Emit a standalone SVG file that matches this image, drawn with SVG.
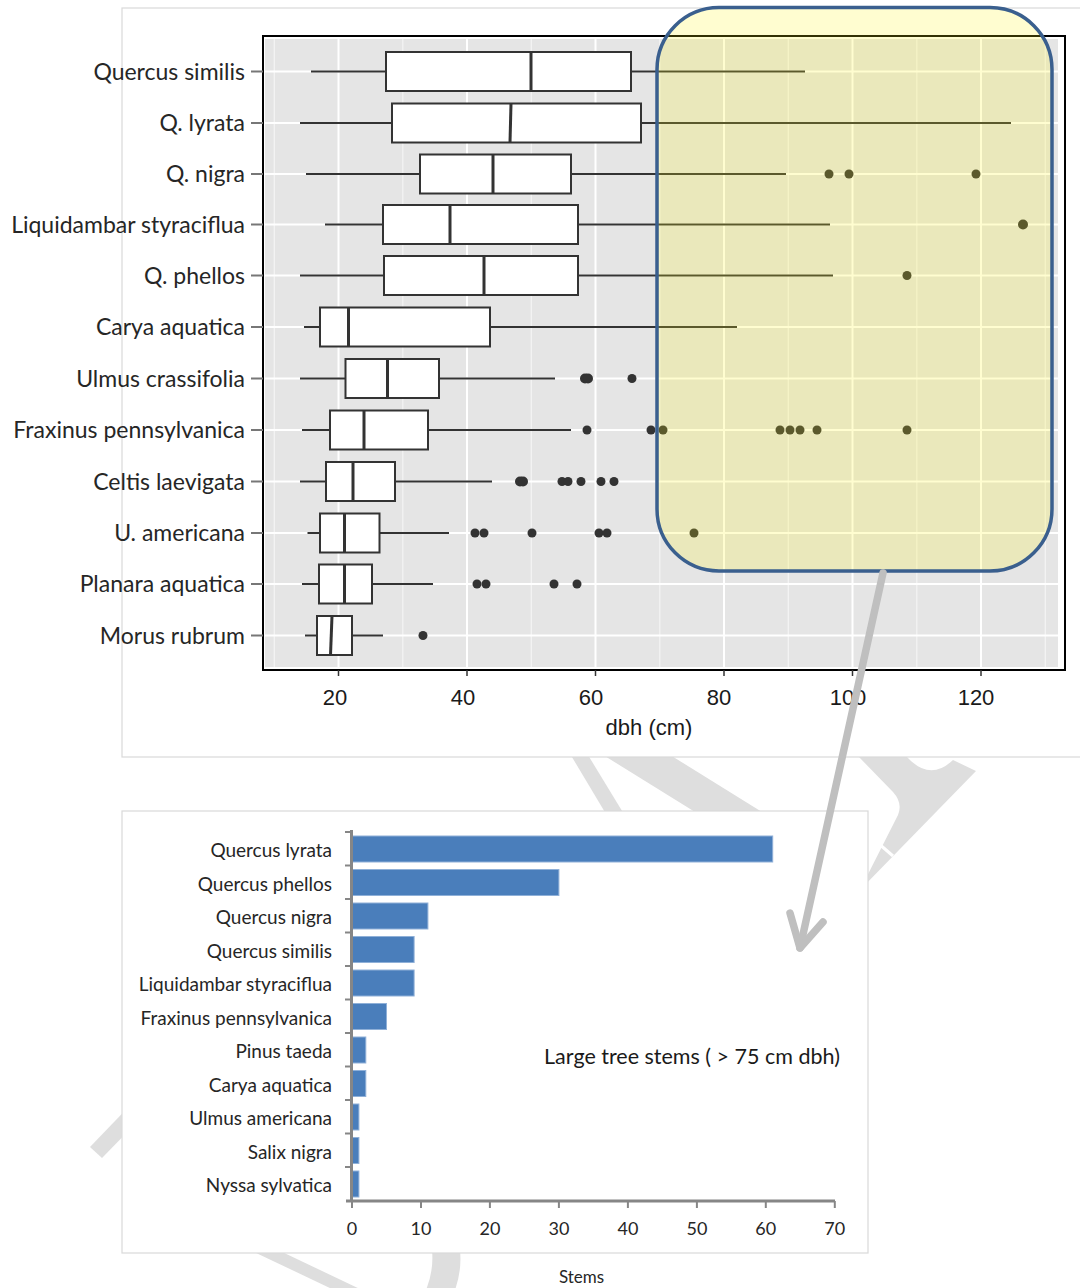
<svg xmlns="http://www.w3.org/2000/svg" width="1080" height="1288" viewBox="0 0 1080 1288">
<style>
.wm{fill:#dedede}
.panel{fill:#ffffff;stroke:#d9d9d9;stroke-width:1.2}
.gmaj{stroke:#ffffff;stroke-width:2}
.gmin{stroke:#f4f4f4;stroke-width:1.2}
.wh{stroke:#333333;stroke-width:2;fill:none}
.box{fill:#ffffff;stroke:#333333;stroke-width:2}
.med{stroke:#333333;stroke-width:3}
.pt{fill:#333333}
.ytk{stroke:#777777;stroke-width:2}
.xtk{stroke:#333333;stroke-width:1.5}
.lab{font-family:Lato,"Open Sans","Liberation Sans",sans-serif;font-size:23px;fill:#262626;text-anchor:end}
.num{font-family:"Liberation Sans",Arial,sans-serif;font-size:22px;fill:#1a1a1a;text-anchor:middle}
.bar{fill:#4a7ebb;stroke:#8fb0d8;stroke-width:1}
.bax{stroke:#868686;stroke-width:3;fill:none}
.btk{stroke:#868686;stroke-width:2}
.blab{font-family:Lato,"Open Sans","Liberation Sans",sans-serif;font-size:19px;fill:#262626;text-anchor:end}
.bnum{font-family:Lato,"Open Sans","Liberation Sans",sans-serif;font-size:18px;fill:#262626;text-anchor:middle}
.arrow{stroke:#bfbfbf;stroke-width:7.5;fill:none;stroke-linecap:round;stroke-linejoin:round}
</style>

<g id="watermark">
<polygon class="wm" points="560,737 577,737 630,824 612,824"/>
<polygon class="wm" points="579,740 646,740 783,825 716,825"/>
<path class="wm" d="M859 757 L893 792 Q903 803 898 815 L860 890 L976 771 L953 760 Q930 782 907 757 Z"/>
<line x1="878" y1="843" x2="893" y2="856" stroke="#ffffff" stroke-width="3"/>
<polygon class="wm" points="90,1147 102,1158 140,1119 140,1095"/>
<polygon class="wm" points="250,1250 278,1250 362,1290 334,1290"/>
<path class="wm" d="M432 1250 L460 1250 Q462 1270 455 1290 L426 1290 Q434 1270 432 1250 Z"/>
</g>

<g id="boxplot-chart">
<rect class="panel" x="122" y="8" width="970" height="749"/>
<rect x="263" y="36" width="802" height="634" fill="#ffffff" stroke="#000000" stroke-width="2"/>
<rect x="265" y="39" width="793" height="628" fill="#e5e5e5"/>
<g id="grid">
<line class="gmin" x1="274.3" y1="39" x2="274.3" y2="667"/>
<line class="gmin" x1="402.8" y1="39" x2="402.8" y2="667"/>
<line class="gmin" x1="531.3" y1="39" x2="531.3" y2="667"/>
<line class="gmin" x1="659.8" y1="39" x2="659.8" y2="667"/>
<line class="gmin" x1="788.3" y1="39" x2="788.3" y2="667"/>
<line class="gmin" x1="916.8" y1="39" x2="916.8" y2="667"/>
<line class="gmin" x1="1045.3" y1="39" x2="1045.3" y2="667"/>
<line class="gmaj" x1="338.5" y1="39" x2="338.5" y2="667"/>
<line class="gmaj" x1="467" y1="39" x2="467" y2="667"/>
<line class="gmaj" x1="595.5" y1="39" x2="595.5" y2="667"/>
<line class="gmaj" x1="724" y1="39" x2="724" y2="667"/>
<line class="gmaj" x1="852.5" y1="39" x2="852.5" y2="667"/>
<line class="gmaj" x1="981" y1="39" x2="981" y2="667"/>
<line class="gmaj" x1="265" y1="71.5" x2="1058" y2="71.5"/>
<line class="gmaj" x1="265" y1="123" x2="1058" y2="123"/>
<line class="gmaj" x1="265" y1="174" x2="1058" y2="174"/>
<line class="gmaj" x1="265" y1="224.5" x2="1058" y2="224.5"/>
<line class="gmaj" x1="265" y1="275.5" x2="1058" y2="275.5"/>
<line class="gmaj" x1="265" y1="327" x2="1058" y2="327"/>
<line class="gmaj" x1="265" y1="378.5" x2="1058" y2="378.5"/>
<line class="gmaj" x1="265" y1="430" x2="1058" y2="430"/>
<line class="gmaj" x1="265" y1="481.5" x2="1058" y2="481.5"/>
<line class="gmaj" x1="265" y1="533" x2="1058" y2="533"/>
<line class="gmaj" x1="265" y1="584" x2="1058" y2="584"/>
<line class="gmaj" x1="265" y1="635.5" x2="1058" y2="635.5"/>
</g>

<g id="box-quercus-similis">
<line class="wh" x1="311" y1="71.5" x2="805" y2="71.5"/>
<rect class="box" x="386" y="52" width="245" height="39"/>
<line class="med" x1="531" y1="52" x2="531" y2="91"/>
</g>
<g id="box-q-lyrata">
<line class="wh" x1="300" y1="123" x2="1011" y2="123"/>
<rect class="box" x="392" y="103.5" width="249" height="39"/>
<line class="med" x1="511" y1="103.5" x2="510" y2="142.5"/>
</g>
<g id="box-q-nigra">
<line class="wh" x1="306" y1="174" x2="786" y2="174"/>
<rect class="box" x="420" y="154.5" width="151" height="39"/>
<line class="med" x1="493" y1="154.5" x2="493" y2="193.5"/>
<circle class="pt" cx="829" cy="174" r="4.5"/>
<circle class="pt" cx="849" cy="174" r="4.5"/>
<circle class="pt" cx="976" cy="174" r="4.5"/>
</g>
<g id="box-liquidambar">
<line class="wh" x1="325" y1="224.5" x2="830" y2="224.5"/>
<rect class="box" x="383" y="205" width="195" height="39"/>
<line class="med" x1="450" y1="205" x2="450" y2="244"/>
<circle class="pt" cx="1023" cy="224.5" r="5"/>
</g>
<g id="box-q-phellos">
<line class="wh" x1="300" y1="275.5" x2="833" y2="275.5"/>
<rect class="box" x="384" y="256" width="194" height="39"/>
<line class="med" x1="484" y1="256" x2="484" y2="295"/>
<circle class="pt" cx="907" cy="275.5" r="4.5"/>
</g>
<g id="box-carya">
<line class="wh" x1="304" y1="327" x2="737" y2="327"/>
<rect class="box" x="320" y="307.5" width="170" height="39"/>
<line class="med" x1="348.5" y1="307.5" x2="348.5" y2="346.5"/>
</g>
<g id="box-ulmus-crassifolia">
<line class="wh" x1="300" y1="378.5" x2="555" y2="378.5"/>
<rect class="box" x="345.5" y="359" width="93.5" height="39"/>
<line class="med" x1="387.5" y1="359" x2="387.5" y2="398"/>
<circle class="pt" cx="585" cy="378.5" r="5"/>
<circle class="pt" cx="588" cy="378.5" r="5"/>
<circle class="pt" cx="632" cy="378.5" r="4.5"/>
</g>
<g id="box-fraxinus">
<line class="wh" x1="302" y1="430" x2="571" y2="430"/>
<rect class="box" x="330" y="410.5" width="98" height="39"/>
<line class="med" x1="364" y1="410.5" x2="364" y2="449.5"/>
<circle class="pt" cx="587" cy="430" r="4.5"/>
<circle class="pt" cx="651" cy="430" r="4.5"/>
<circle class="pt" cx="663" cy="430" r="4.5"/>
<circle class="pt" cx="780" cy="430" r="4.5"/>
<circle class="pt" cx="790" cy="430" r="4.5"/>
<circle class="pt" cx="800" cy="430" r="4.5"/>
<circle class="pt" cx="817" cy="430" r="4.5"/>
<circle class="pt" cx="907" cy="430" r="4.5"/>
</g>
<g id="box-celtis">
<line class="wh" x1="300" y1="481.5" x2="492" y2="481.5"/>
<rect class="box" x="326" y="462" width="69" height="39"/>
<line class="med" x1="353" y1="462" x2="353" y2="501"/>
<circle class="pt" cx="520" cy="481.5" r="5"/>
<circle class="pt" cx="523" cy="481.5" r="5"/>
<circle class="pt" cx="562" cy="481.5" r="4.5"/>
<circle class="pt" cx="568" cy="481.5" r="4.5"/>
<circle class="pt" cx="581" cy="481.5" r="4.5"/>
<circle class="pt" cx="601" cy="481.5" r="4.5"/>
<circle class="pt" cx="614" cy="481.5" r="4.5"/>
</g>
<g id="box-u-americana">
<line class="wh" x1="307.5" y1="533" x2="449" y2="533"/>
<rect class="box" x="320" y="513.5" width="59.5" height="39"/>
<line class="med" x1="344.5" y1="513.5" x2="344.5" y2="552.5"/>
<circle class="pt" cx="475" cy="533" r="4.5"/>
<circle class="pt" cx="484" cy="533" r="4.5"/>
<circle class="pt" cx="532" cy="533" r="4.5"/>
<circle class="pt" cx="599" cy="533" r="4.5"/>
<circle class="pt" cx="607" cy="533" r="4.5"/>
<circle class="pt" cx="694" cy="533" r="4.5"/>
</g>
<g id="box-planara">
<line class="wh" x1="302" y1="584" x2="433" y2="584"/>
<rect class="box" x="319" y="564.5" width="53" height="39"/>
<line class="med" x1="344.5" y1="564.5" x2="344.5" y2="603.5"/>
<circle class="pt" cx="477" cy="584" r="4.5"/>
<circle class="pt" cx="486" cy="584" r="4.5"/>
<circle class="pt" cx="554" cy="584" r="4.5"/>
<circle class="pt" cx="577" cy="584" r="4.5"/>
</g>
<g id="box-morus">
<line class="wh" x1="305" y1="635.5" x2="383" y2="635.5"/>
<rect class="box" x="317" y="616" width="35" height="39"/>
<line class="med" x1="332" y1="616" x2="330.5" y2="655"/>
<circle class="pt" cx="423" cy="635.5" r="4.5"/>
</g>

<g id="y-axis">
<line class="ytk" x1="251" y1="71.5" x2="263" y2="71.5"/>
<line class="ytk" x1="251" y1="123" x2="263" y2="123"/>
<line class="ytk" x1="251" y1="174" x2="263" y2="174"/>
<line class="ytk" x1="251" y1="224.5" x2="263" y2="224.5"/>
<line class="ytk" x1="251" y1="275.5" x2="263" y2="275.5"/>
<line class="ytk" x1="251" y1="327" x2="263" y2="327"/>
<line class="ytk" x1="251" y1="378.5" x2="263" y2="378.5"/>
<line class="ytk" x1="251" y1="430" x2="263" y2="430"/>
<line class="ytk" x1="251" y1="481.5" x2="263" y2="481.5"/>
<line class="ytk" x1="251" y1="533" x2="263" y2="533"/>
<line class="ytk" x1="251" y1="584" x2="263" y2="584"/>
<line class="ytk" x1="251" y1="635.5" x2="263" y2="635.5"/>
<text class="lab" x="245" y="79.5">Quercus similis</text>
<text class="lab" x="245" y="131">Q. lyrata</text>
<text class="lab" x="245" y="182">Q. nigra</text>
<text class="lab" x="245" y="232.5">Liquidambar styraciflua</text>
<text class="lab" x="245" y="283.5">Q. phellos</text>
<text class="lab" x="245" y="335">Carya aquatica</text>
<text class="lab" x="245" y="386.5">Ulmus crassifolia</text>
<text class="lab" x="245" y="438">Fraxinus pennsylvanica</text>
<text class="lab" x="245" y="489.5">Celtis laevigata</text>
<text class="lab" x="245" y="541">U. americana</text>
<text class="lab" x="245" y="592">Planara aquatica</text>
<text class="lab" x="245" y="643.5">Morus rubrum</text>
</g>
<g id="x-axis">
<line class="xtk" x1="338.5" y1="670" x2="338.5" y2="676"/>
<line class="xtk" x1="467" y1="670" x2="467" y2="676"/>
<line class="xtk" x1="595.5" y1="670" x2="595.5" y2="676"/>
<line class="xtk" x1="724" y1="670" x2="724" y2="676"/>
<line class="xtk" x1="852.5" y1="670" x2="852.5" y2="676"/>
<line class="xtk" x1="981" y1="670" x2="981" y2="676"/>
<text class="num" x="335" y="705">20</text>
<text class="num" x="463" y="705">40</text>
<text class="num" x="591" y="705">60</text>
<text class="num" x="719" y="705">80</text>
<text class="num" x="848" y="705">100</text>
<text class="num" x="976" y="705">120</text>
<text class="num" x="649" y="735">dbh (cm)</text>
</g>
</g>

<g id="highlight-region">
<rect x="657" y="7.5" width="395" height="563.5" rx="62" ry="62" fill="#fff514" fill-opacity="0.2" stroke="#3a5f8e" stroke-width="3.5"/>
</g>

<g id="bar-chart">
<rect class="panel" x="122" y="811" width="746" height="442"/>
<g id="bars">
<rect class="bar" x="352" y="836" width="420.7" height="26"/>
<rect class="bar" x="352" y="869.5" width="206.9" height="26"/>
<rect class="bar" x="352" y="903" width="75.9" height="26"/>
<rect class="bar" x="352" y="936.5" width="62.1" height="26"/>
<rect class="bar" x="352" y="970" width="62.1" height="26"/>
<rect class="bar" x="352" y="1003.5" width="34.5" height="26"/>
<rect class="bar" x="352" y="1037" width="13.8" height="26"/>
<rect class="bar" x="352" y="1070.5" width="13.8" height="26"/>
<rect class="bar" x="352" y="1104" width="6.9" height="26"/>
<rect class="bar" x="352" y="1137.5" width="6.9" height="26"/>
<rect class="bar" x="352" y="1171" width="6.9" height="26"/>
</g>
<g id="bar-axes">
<line class="bax" x1="351.5" y1="830" x2="351.5" y2="1201"/>
<line class="bax" x1="346" y1="1201" x2="835" y2="1201"/>
<line class="btk" x1="345" y1="832" x2="352" y2="832"/>
<line class="btk" x1="345" y1="865.5" x2="352" y2="865.5"/>
<line class="btk" x1="345" y1="899" x2="352" y2="899"/>
<line class="btk" x1="345" y1="932.5" x2="352" y2="932.5"/>
<line class="btk" x1="345" y1="966" x2="352" y2="966"/>
<line class="btk" x1="345" y1="999.5" x2="352" y2="999.5"/>
<line class="btk" x1="345" y1="1033" x2="352" y2="1033"/>
<line class="btk" x1="345" y1="1066.5" x2="352" y2="1066.5"/>
<line class="btk" x1="345" y1="1100" x2="352" y2="1100"/>
<line class="btk" x1="345" y1="1133.5" x2="352" y2="1133.5"/>
<line class="btk" x1="345" y1="1167" x2="352" y2="1167"/>
<line class="btk" x1="352" y1="1201" x2="352" y2="1208"/>
<line class="btk" x1="421" y1="1201" x2="421" y2="1208"/>
<line class="btk" x1="489.9" y1="1201" x2="489.9" y2="1208"/>
<line class="btk" x1="558.9" y1="1201" x2="558.9" y2="1208"/>
<line class="btk" x1="627.9" y1="1201" x2="627.9" y2="1208"/>
<line class="btk" x1="696.9" y1="1201" x2="696.9" y2="1208"/>
<line class="btk" x1="765.8" y1="1201" x2="765.8" y2="1208"/>
<line class="btk" x1="834.8" y1="1201" x2="834.8" y2="1208"/>
</g>
<g id="bar-labels">
<text class="blab" x="332" y="857">Quercus lyrata</text>
<text class="blab" x="332" y="890.5">Quercus phellos</text>
<text class="blab" x="332" y="924">Quercus nigra</text>
<text class="blab" x="332" y="957.5">Quercus similis</text>
<text class="blab" x="332" y="991">Liquidambar styraciflua</text>
<text class="blab" x="332" y="1024.5">Fraxinus pennsylvanica</text>
<text class="blab" x="332" y="1058">Pinus taeda</text>
<text class="blab" x="332" y="1091.5">Carya aquatica</text>
<text class="blab" x="332" y="1125">Ulmus americana</text>
<text class="blab" x="332" y="1158.5">Salix nigra</text>
<text class="blab" x="332" y="1192">Nyssa sylvatica</text>
<text class="bnum" x="352" y="1235">0</text>
<text class="bnum" x="421" y="1235">10</text>
<text class="bnum" x="489.9" y="1235">20</text>
<text class="bnum" x="558.9" y="1235">30</text>
<text class="bnum" x="627.9" y="1235">40</text>
<text class="bnum" x="696.9" y="1235">50</text>
<text class="bnum" x="765.8" y="1235">60</text>
<text class="bnum" x="834.8" y="1235">70</text>
<text class="bnum" x="581.5" y="1282.5" style="font-size:17px">Stems</text>
<text x="692" y="1064" style="font-family:Lato,'Open Sans','Liberation Sans',sans-serif;font-size:21.5px;fill:#1a1a1a;text-anchor:middle">Large tree stems ( &gt; 75 cm dbh)</text>
</g>
</g>

<g id="connectors">
<line class="arrow" x1="883" y1="573" x2="800" y2="948"/>
<polyline class="arrow" points="790,913 800,948 823,922"/>
</g>
</svg>
